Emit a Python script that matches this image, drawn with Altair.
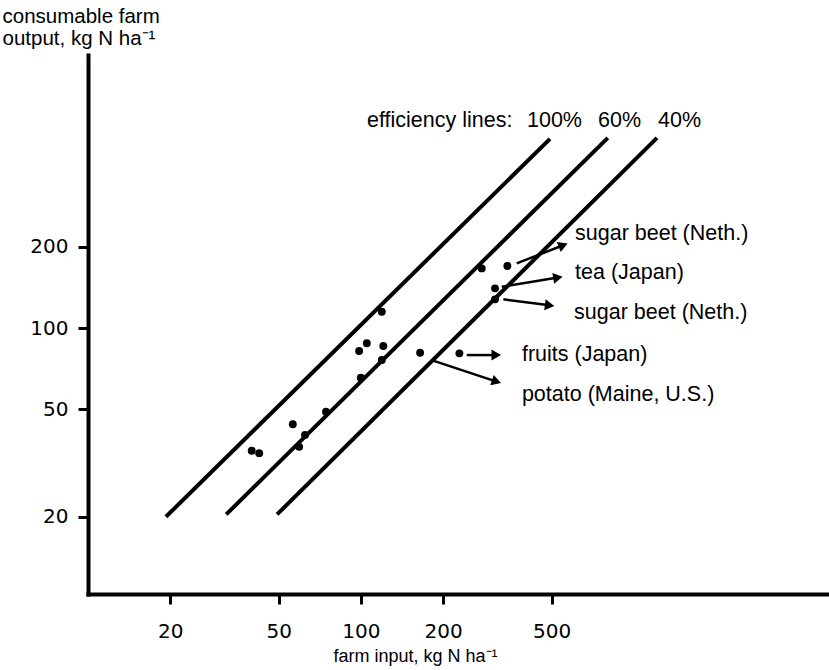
import math
import altair as alt
import pandas as pd

# ---- data (kg N per ha) ----
farm_input = [119.3, 105.1, 98.5, 120.8, 119.3, 99.9, 74.5, 56.3, 62.4, 59.4,
              39.8, 42.4, 164.8, 229.5, 277.2, 344.1, 310.0, 310.0]
farm_output = [114.9, 87.8, 82.2, 85.8, 76.1, 65.5, 49.0, 44.0, 40.2, 36.3,
               35.1, 34.4, 81.0, 80.6, 166.3, 169.7, 140.3, 127.7]

eff_names = ["100%", "60%", "40%"]
eff_in_start = [19.3, 32.1, 49.3]
eff_out_start = [20.0, 20.4, 20.4]
eff_in_end = [493, 803, 1216]
eff_out_end = [502, 506, 506]

crop_names = ["sugar beet (Neth.)", "tea (Japan)", "sugar beet (Neth.)",
              "fruits (Japan)", "potato (Maine, U.S.)"]
arrow_in_start = [372.4, 328.1, 332.6, 244.2, 183.9]
arrow_out_start = [173.6, 142.2, 127.7, 79.4, 75.7]
arrow_in_tip = [575.4, 551.8, 514.5, 328.1, 328.1]
arrow_out_tip = [206.0, 154.9, 120.6, 79.4, 62.4]
label_in = [609, 609, 604, 389, 389]
label_out = [222.8, 159.9, 113.6, 79.4, 56.5]

title_parts = ["efficiency lines:", "100%", "60%", "40%"]
title_in = [105.3, 406, 739, 1226]
title_out = [584.6, 584.6, 584.6, 584.6]

x_ticks = [20, 50, 100, 200, 500]
y_ticks = [20, 50, 100, 200]

# ---- layout ----
X_DOMAIN = [10, 5190]
Y_DOMAIN = [10.35, 1026]
W, H = 741, 539
PAD = {"left": 88, "top": 55, "right": 0, "bottom": 76}
FONT = "Liberation Sans"
TICK_FONT = "DejaVu Sans"

px_dec_x = W / (math.log10(X_DOMAIN[1]) - math.log10(X_DOMAIN[0]))
px_dec_y = H / (math.log10(Y_DOMAIN[1]) - math.log10(Y_DOMAIN[0]))

# arrow geometry (heads rotated toward the tip)
rows = []
for i in range(len(crop_names)):
    dx = (math.log10(arrow_in_tip[i]) - math.log10(arrow_in_start[i])) * px_dec_x
    dy = -(math.log10(arrow_out_tip[i]) - math.log10(arrow_out_start[i])) * px_dec_y
    L = math.hypot(dx, dy)
    ux, uy = dx / L, dy / L
    back = 5.5
    hx = 10 ** (math.log10(arrow_in_tip[i]) - back * ux / px_dec_x)
    hy = 10 ** (math.log10(arrow_out_tip[i]) + back * uy / px_dec_y)
    ang = math.degrees(math.atan2(dy, dx)) % 360
    rows.append({"x1": arrow_in_start[i], "y1": arrow_out_start[i],
                 "x2": hx, "y2": hy, "hx": hx, "hy": hy, "ang": ang,
                 "lx": label_in[i], "ly": label_out[i], "name": crop_names[i]})
arrows = pd.DataFrame(rows)

pts = pd.DataFrame({"inp": farm_input, "out": farm_output})
eff = pd.DataFrame({"x1": eff_in_start, "y1": eff_out_start,
                    "x2": eff_in_end, "y2": eff_out_end, "name": eff_names})
ttl = pd.DataFrame({"x": title_in, "y": title_out, "t": title_parts})

xs = alt.Scale(type="log", domain=X_DOMAIN)
ys = alt.Scale(type="log", domain=Y_DOMAIN)

x_axis = alt.Axis(values=x_ticks, format="d", title="farm input, kg N ha⁻¹",
                  titleX=327, titleY=67, titleAlign="center",
                  titleBaseline="alphabetic", titleFontSize=18,
                  labelPadding=17, tickSize=10, labelFontSize=20)
y_axis = alt.Axis(values=y_ticks, format="d",
                  title=["consumable farm", "output, kg N ha⁻¹"],
                  titleAngle=0, titleAlign="left", titleBaseline="alphabetic",
                  titleX=-86, titleY=-33, titleFontSize=20.5, titleLineHeight=22,
                  labelPadding=10, tickSize=10, labelFontSize=20)


def X(field):
    return alt.X(field, type="quantitative", scale=xs, axis=x_axis)


def Y(field):
    return alt.Y(field, type="quantitative", scale=ys, axis=y_axis)


lines = alt.Chart(eff).mark_rule(color="black", strokeWidth=4).encode(
    x=X("x1"), y=Y("y1"), x2="x2", y2="y2")

points = alt.Chart(pts).mark_circle(color="black", opacity=1, size=62).encode(
    x=X("inp"), y=Y("out"))

arrow_lines = alt.Chart(arrows).mark_rule(color="black", strokeWidth=2.5).encode(
    x=X("x1"), y=Y("y1"), x2="x2", y2="y2")

arrow_heads = alt.Chart(arrows).mark_point(
    shape="triangle-right", filled=True, color="black", opacity=1, size=120
).encode(x=X("hx"), y=Y("hy"), angle=alt.Angle("ang", type="quantitative", scale=None))

labels = alt.Chart(arrows).mark_text(
    align="left", baseline="middle", font=FONT, fontSize=21.5, color="black"
).encode(x=X("lx"), y=Y("ly"), text="name")

eff_title = alt.Chart(ttl).mark_text(
    align="left", baseline="middle", font=FONT, fontSize=21.5, color="black"
).encode(x=X("x"), y=Y("y"), text="t")

chart = alt.layer(lines, points, arrow_lines, arrow_heads, labels, eff_title).properties(
    width=W, height=H, padding=PAD,
    autosize=alt.AutoSizeParams(type="none"),
    background="white",
).configure_view(stroke=None).configure_axis(
    grid=False, domainColor="black", domainWidth=4, tickColor="black",
    tickWidth=3, labelColor="black", titleColor="black", labelFont=TICK_FONT,
    titleFont=FONT, titleFontWeight="normal", domainCap="square"
)

chart.save("out.html", embed_options={"renderer": "svg", "actions": False})
